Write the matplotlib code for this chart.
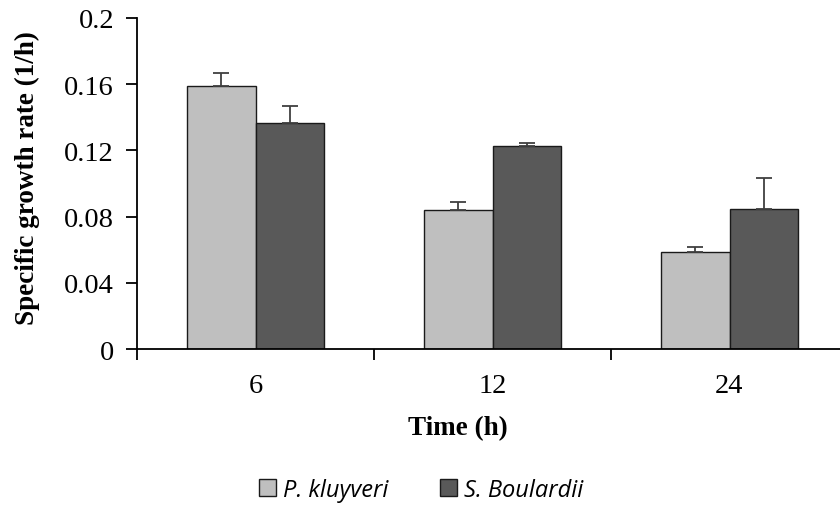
import matplotlib.pyplot as plt
import numpy as np
from matplotlib.patches import Patch

times = ['6', '12', '24']
kluyveri = [0.159, 0.084, 0.0586]
kluyveri_err = [0.008, 0.0048, 0.003]
boulardii = [0.1366, 0.1225, 0.0846]
boulardii_err = [0.0104, 0.0022, 0.0187]

light = '#bfbfbf'
dark = '#595959'

plt.rcParams['font.family'] = ['Liberation Serif', 'DejaVu Serif']

fig = plt.figure(figsize=(8.4, 5.1), dpi=100)
ax = fig.add_axes([137 / 840, 1 - 350 / 510, 711 / 840, 331 / 510])

x = np.arange(len(times))
w = 0.287
err_kw = dict(ecolor='#404040', elinewidth=1.3, capsize=6, capthick=1.3)
ax.bar(x - w / 2, kluyveri, w, color=light, edgecolor='#1a1a1a', linewidth=1.0,
       yerr=[np.zeros(3), kluyveri_err], error_kw=err_kw, zorder=2)
ax.bar(x + w / 2, boulardii, w, color=dark, edgecolor='#1a1a1a', linewidth=1.0,
       yerr=[np.zeros(3), boulardii_err], error_kw=err_kw, zorder=2)

ax.set_xlim(-0.5, 2.5)
ax.set_ylim(0, 0.2)
ax.set_yticks([0, 0.04, 0.08, 0.12, 0.16, 0.2])
ax.set_yticklabels(['0', '0.04', '0.08', '0.12', '0.16', '0.2'])
ax.set_xticks([-0.5, 0.5, 1.5])
ax.set_xticklabels([])
ax.set_xticks(x, minor=True)
ax.set_xticklabels(times, minor=True)
ax.tick_params(axis='x', which='minor', length=0, pad=17, labelsize=20.5)
ax.tick_params(axis='x', which='major', length=8, width=1.3, direction='out')
ax.tick_params(axis='y', length=8, width=1.3, direction='out', labelsize=20.5, pad=8.5)

for s in ['top', 'right']:
    ax.spines[s].set_visible(False)
for s in ['left', 'bottom']:
    ax.spines[s].set_linewidth(1.3)

ax.set_ylabel('Specific growth rate (1/h)', fontsize=19.5, fontweight='bold')
ax.yaxis.set_label_coords(-0.136, 0.52)
ax.set_xlabel('Time (h)', fontsize=19.5, fontweight='bold')
ax.xaxis.set_label_coords(0.4515, -0.2)

handles = [Patch(facecolor=light, edgecolor='#1a1a1a', label='P. kluyveri'),
           Patch(facecolor=dark, edgecolor='#1a1a1a', label='S. Boulardii')]
fig.legend(handles=handles, loc='center', bbox_to_anchor=(421 / 840, 1 - 491 / 510),
           ncol=2, frameon=False, prop=dict(family='Open Sans', style='italic', size=17),
           handlelength=0.7, handleheight=0.7, handletextpad=0.3, columnspacing=2.2)

fig.savefig('out.png', dpi=100)
